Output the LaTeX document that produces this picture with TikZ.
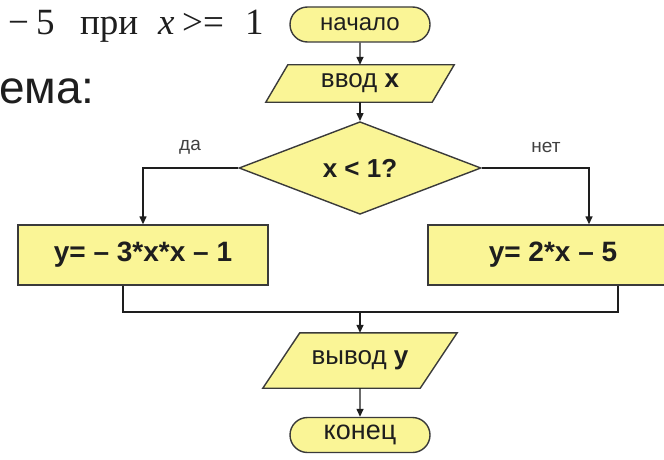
\documentclass[tikz,border=0pt]{standalone}
\usepackage{fontspec}
\setmainfont{Liberation Serif}
\newfontfamily\arial{Liberation Sans}
\usetikzlibrary{shapes.geometric,shapes.misc,arrows.meta,backgrounds}
\definecolor{boxfill}{HTML}{FAF596}
\definecolor{boxline}{HTML}{3A3A3A}
\definecolor{ink}{HTML}{1E1E1E}

\begin{document}
\begin{tikzpicture}[x=1pt,y=-1pt,
  base/.style={draw=boxline, fill=boxfill, line width=1.4pt, text=ink, inner sep=0pt,
    font=\arial\fontsize{25}{28}\selectfont},
  term/.style={base, rounded rectangle, minimum width=140pt, minimum height=35pt},
  iotext/.style={text=ink, inner sep=0pt, rectangle, font=\arial\fontsize{26}{28}\selectfont},
  iobox/.style={draw=boxline, fill=boxfill, line width=1.4pt, line join=miter},
  decide/.style={base, diamond, minimum width=242pt, minimum height=80pt,
    font=\arial\bfseries\fontsize{26}{28}\selectfont},
  proc/.style={base, rectangle, minimum width=250pt, minimum height=60pt,
    font=\arial\bfseries\fontsize{28}{32}\selectfont},
  flow/.style={draw=ink, line width=1.4pt},
  arr/.style={flow, -{Triangle[length=8pt,width=7pt]}},
  lbl/.style={text=ink!85, inner sep=0pt, font=\arial\fontsize{19}{22}\selectfont},
  serif/.style={text=ink, inner sep=0pt, anchor=base west, font=\fontsize{37}{40}\selectfont},
  big/.style={text=ink, inner sep=0pt, anchor=base west, font=\arial\fontsize{46}{50}\selectfont}
]
\clip (0,0) rectangle (664,460);
\begin{pgfonlayer}{background}
  \fill[white] (0,0) rectangle (664,460);
\end{pgfonlayer}

% condition line and caption on the left
\node[serif] (t1) at (8,35) {−};
\node[serif] (t2) at (36,35) {5};
\node[serif] (t3) at (80,35) {при};
\node[serif] (t4) at (158,35) {\itshape x};
\node[serif] (t5) at (182,35) {>};
\node[serif] (t6) at (203,35) {=};
\node[serif] (t7) at (245,35) {1};
\node[big] (cap) at (-1,103) {ема:};

% flowchart blocks
\node[term, font=\arial\fontsize{24}{28}\selectfont] (start) at (360,24.5) {начало};
\node[iotext, minimum width=166pt, minimum height=37pt] (in) at (360,83.5) {ввод \textbf{x}};
\node[decide] (dec) at (360,168) {x < 1?};
\node[proc] (left) at (143,255) {y= – 3*x*x – 1};
\node[proc] (right) at (553,255) {y= 2*x – 5};
\node[iotext, minimum width=157pt, minimum height=55pt] (out) at (360,360.5) {вывод \textbf{y}};
\node[term, font=\arial\fontsize{27}{30}\selectfont] (end) at (360,435) {конец};

% parallelogram outlines for input and output
\begin{pgfonlayer}{background}
  \path[iobox] ([xshift=11pt]in.north west) -- ([xshift=11pt]in.north east)
     -- ([xshift=-11pt]in.south east) -- ([xshift=-11pt]in.south west) -- cycle;
  \path[iobox] ([xshift=18.5pt]out.north west) -- ([xshift=18.5pt]out.north east)
     -- ([xshift=-18.5pt]out.south east) -- ([xshift=-18.5pt]out.south west) -- cycle;
\end{pgfonlayer}

% branch labels
\node[lbl] (yes) at (190,147) {да};
\node[lbl] (no) at (546,147) {нет};

% connectors
\draw[arr] (start) -- (in);
\draw[arr] (in) -- (dec);
\draw[arr] (dec.west) -| (left.north);
\coordinate (rx) at (589,0);
\draw[arr] (dec.east) -| (right.north -| rx);
\coordinate (jl) at (123,312);
\coordinate (jr) at (618,312);
\draw[flow] (left.south -| jl) -- (jl) -- (jr) -- (right.south -| jr);
\draw[arr] (out.north |- jl) -- (out.north);
\draw[arr] (out) -- (end);
\end{tikzpicture}
\end{document}
